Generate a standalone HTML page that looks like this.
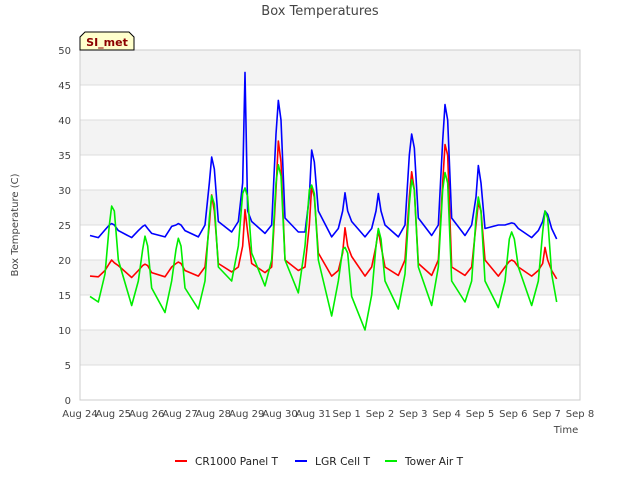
<!DOCTYPE html>
<html><head><meta charset="utf-8"><style>
body{margin:0;background:#fff;font-family:"Liberation Sans","DejaVu Sans",sans-serif}
</style></head><body>
<svg width="640" height="480" xmlns="http://www.w3.org/2000/svg" font-family="DejaVu Sans, Liberation Sans, sans-serif">
<g id="bands"></g><g id="grid"></g><g id="axes"></g><g id="series"></g>
<text x="320" y="15" text-anchor="middle" font-size="13" fill="#444">Box Temperatures</text>
<text transform="translate(18,225) rotate(-90)" text-anchor="middle" font-size="10" fill="#444">Box Temperature (C)</text>
<text x="566" y="433" text-anchor="middle" font-size="10" fill="#444">Time</text>
<g>
<path d="M80,50 L80,37 L85,32 L129,32 L134,37 L134,50 Z" fill="#ffffcc" stroke="#000" stroke-width="1"/>
<text x="107" y="46" text-anchor="middle" font-size="11" font-weight="bold" fill="#8b0000">SI_met</text>
</g>
<g font-size="11" fill="#222">
<g><line x1="175" y1="461" x2="187" y2="461" stroke="#ff0000" stroke-width="2"/><text x="195" y="465" textLength="83" lengthAdjust="spacingAndGlyphs">CR1000 Panel T</text></g>
<g><line x1="295" y1="461" x2="307" y2="461" stroke="#0000ff" stroke-width="2"/><text x="315" y="465" textLength="55" lengthAdjust="spacingAndGlyphs">LGR Cell T</text></g>
<g><line x1="385" y1="461" x2="397" y2="461" stroke="#00ee00" stroke-width="2"/><text x="405" y="465" textLength="58" lengthAdjust="spacingAndGlyphs">Tower Air T</text></g>
</g>
</svg>
<script>
const xTicks=["Aug 24","Aug 25","Aug 26","Aug 27","Aug 28","Aug 29","Aug 30","Aug 31","Sep 1","Sep 2","Sep 3","Sep 4","Sep 5","Sep 6","Sep 7","Sep 8"];
const yTicks=[0,5,10,15,20,25,30,35,40,45,50];
const times=[0.3,
0.55,0.75,0.88,0.95,1.03,1.15, 1.55,1.75,1.88,1.95,2.03,2.15, 2.55,2.75,2.88,2.95,3.03,3.15,
3.55,3.75,3.88,3.95,4.03,4.15, 4.55,4.75,4.88,4.95,5.03,5.15, 5.55,5.75,5.88,5.95,6.03,6.15,
6.55,6.75,6.88,6.95,7.03,7.15, 7.55,7.75,7.88,7.95,8.03,8.15, 8.55,8.75,8.88,8.95,9.03,9.15,
9.55,9.75,9.88,9.95,10.03,10.15, 10.55,10.75,10.88,10.95,11.03,11.15, 11.55,11.75,11.88,11.95,12.03,12.15,
12.55,12.75,12.88,12.95,13.03,13.15, 13.55,13.75,13.88,13.95,14.03,14.15, 14.3];
const lgr=[23.5,
23.2,24.3,25,25.2,25,24.2, 23.2,24.2,24.8,25,24.5,23.8, 23.3,24.8,25,25.2,25,24.2,
23.3,25,31,34.7,33,25.5, 24,25.5,31,46.8,27,25.5, 23.8,25,38,42.8,40,26,
24,24,29,35.7,34,27, 23.3,24.5,27,29.6,27,25.5, 23.3,24.5,27,29.5,27,25,
23.3,25,35,38,36,26, 23.5,25,37,42.2,40,26, 23.5,25,29,33.5,31,24.5,
25,25,25.2,25.3,25.2,24.5, 23.2,24.2,25.5,27,26.5,24.5, 23];
const cr1000=[17.7,
17.6,18.5,19.5,20,19.6,19.2, 17.5,18.5,19.2,19.4,19.2,18.2, 17.6,19,19.5,19.7,19.5,18.5,
17.7,19,25,29.3,27,19.5, 18.3,19,22,27.2,24,19.5, 18.2,19,30,37,34,20,
18.5,19,25,30.5,29,21, 17.7,18.5,21,24.6,22,20.5, 17.7,19,22,24.3,22,19,
17.8,20,29,32.6,30,19.5, 17.8,20,31,36.5,35,19, 17.8,19,25,28.2,27,20,
17.7,19,19.8,20,19.8,19, 17.7,18.5,19.5,21.8,20,18.5, 17.3];
const tower=[14.8,
14,18,25,27.7,27,20, 13.5,17,21.5,23.4,22,16, 12.5,17,21.5,23.1,22,16,
13,17,26,29.2,28,19, 17,22,29.5,30.3,29,21, 16.3,20,31,33.6,32,20,
15.3,22,30,30.7,29.5,20, 12,17,21.5,21.8,21,14.8, 10,15,22,24.5,23,17,
13,18,28,31.5,30,19, 13.5,19,30,32.5,31,17, 14,17,26,29,27,17,
13.2,17,23,24,23,19, 13.5,17,24,27,26,18, 14];
const L=80,R=580,T=50,B=400;
const xs=d=>L+d*(R-L)/15, ys=v=>B-v*(B-T)/50;
const NS="http://www.w3.org/2000/svg";
function mk(p,tag,at){const e=document.createElementNS(NS,tag);for(const k in at)e.setAttribute(k,at[k]);document.getElementById(p).appendChild(e);return e;}
for(let i=1;i<10;i+=2){const r=mk('bands','rect',{x:L,y:ys(yTicks[i+1]),width:R-L,height:ys(yTicks[i])-ys(yTicks[i+1]),fill:'#f3f3f3'});

}
yTicks.forEach(v=>{const l=mk('grid','line',{x1:L,x2:R,y1:ys(v),y2:ys(v),stroke:'#dddddd'});


const t=mk('axes','text',{x:L-9,y:ys(v)+4,'text-anchor':'end','font-size':'10',fill:'#444'});t.textContent=v;

});
mk('axes','rect',{x:L,y:T,width:R-L,height:B-T,fill:'none',stroke:'#cccccc'});
xTicks.forEach((s,i)=>{const t=mk('axes','text',{x:xs(i),y:B+17,'text-anchor':'middle','font-size':'10',fill:'#444'});t.textContent=s;

});
[[cr1000,'#ff0000','series-cr1000-panel-t'],[lgr,'#0000ff','series-lgr-cell-t'],[tower,'#00ee00','series-tower-air-t']].forEach(([arr,c,n])=>{
const p=mk('series','polyline',{points:arr.map((v,i)=>xs(times[i])+','+ys(v)).join(' '),fill:'none',stroke:c,'stroke-width':'1.6','stroke-linejoin':'round'});

});
</script>
</body></html>
